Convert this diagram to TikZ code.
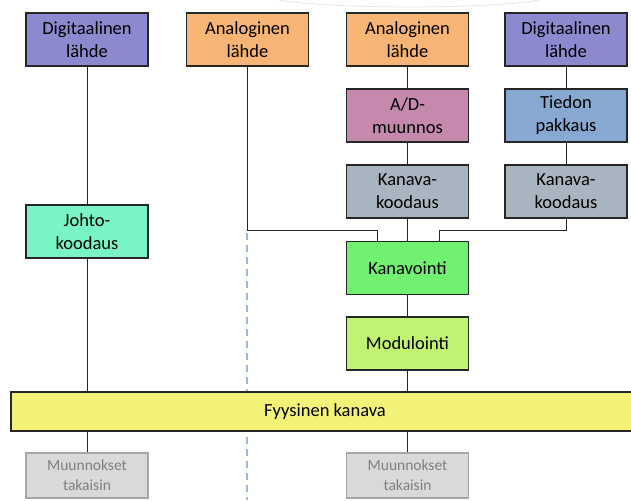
\documentclass[tikz,border=0pt]{standalone}
\usepackage{fontspec}
\setmainfont{Carlito}
\definecolor{cdig}{HTML}{8C89CF}
\definecolor{cana}{HTML}{F6B574}
\definecolor{cad}{HTML}{C589AE}
\definecolor{ctp}{HTML}{87A8D0}
\definecolor{ckk}{HTML}{A8B4BF}
\definecolor{cjk}{HTML}{78F4C6}
\definecolor{ckv}{HTML}{72F072}
\definecolor{cmod}{HTML}{C2F272}
\definecolor{cfk}{HTML}{F2F279}
\definecolor{cmun}{HTML}{D9D9D9}
\definecolor{cmunb}{HTML}{A6A6A6}
\definecolor{cmunt}{HTML}{808080}
\definecolor{cdash}{HTML}{9DB9DC}
\definecolor{cline}{HTML}{262626}
\tikzset{
  blk/.style={draw=cline, line width=1.2pt, rectangle, inner sep=0pt, align=center,
    minimum width=122pt, minimum height=53pt,
    font=\fontsize{18.5}{23}\selectfont},
  munbox/.style={draw=cmunb, fill=cmun, line width=1.2pt, rectangle, inner sep=0pt, align=center,
    minimum width=122pt, minimum height=45pt, text=cmunt,
    font=\fontsize{15.5}{20}\selectfont},
  conn/.style={draw=cline, line width=0.9pt},
}
\begin{document}
\begin{tikzpicture}[x=1pt,y=-1pt]
\useasboundingbox (0,0) rectangle (631,500);
\clip (0,0) rectangle (631,500);
% faint arc at top
\draw[cdash!70, line width=0.8pt, densely dotted] (280,0) .. controls (330,9.3) and (490,9.3) .. (540,0);
% dashed divider
\coordinate (dtop) at (247,233);
\coordinate (dbot) at (247,500);
\draw[cdash, line width=1.3pt, dash pattern=on 7pt off 5pt] (dtop) -- (dbot);
% nodes
\node[blk, fill=cdig] (d1) at (87,39.5) {Digitaalinen\\lähde};
\node[blk, fill=cana] (a1) at (247.5,39.5) {Analoginen\\lähde};
\node[blk, fill=cana] (a2) at (407.5,39.5) {Analoginen\\lähde};
\node[blk, fill=cdig] (d2) at (566,39.5) {Digitaalinen\\lähde};
\node[blk, fill=cad] (ad) at (407.5,115.5) {A/D-\\muunnos};
\node[blk, fill=ctp] (tp) at (566,115.5) {Tiedon\\pakkaus};
\node[blk, fill=ckk] (kk1) at (407.5,191.5) {Kanava-\\koodaus};
\node[blk, fill=ckk] (kk2) at (566,191.5) {Kanava-\\koodaus};
\node[blk, fill=cjk] (jk) at (87,231.5) {Johto-\\koodaus};
\node[blk, fill=ckv] (kv) at (407.5,268) {Kanavointi};
\node[blk, fill=cmod] (mod) at (407.5,343.5) {Modulointi};
\node[blk, fill=cfk, minimum width=628pt, minimum height=39pt] (fk) at (325,411.5) {Fyysinen kanava};
\node[munbox] (m1) at (87,475.5) {Muunnokset\\takaisin};
\node[munbox] (m2) at (407.5,475.5) {Muunnokset\\takaisin};
% connectors
\draw[conn] (d1) -- (jk);
\draw[conn] (jk) -- (jk |- fk.north);
\draw[conn] (m1 |- fk.south) -- (m1);
\draw[conn] (a2) -- (ad);
\draw[conn] (ad) -- (kk1);
\draw[conn] (kk1) -- (kv);
\draw[conn] (kv) -- (mod);
\draw[conn] (mod) -- (mod |- fk.north);
\draw[conn] (m2 |- fk.south) -- (m2);
\draw[conn] (d2) -- (tp);
\draw[conn] (tp) -- (kk2);
\coordinate (j1) at (377,230);
\coordinate (j2) at (439,230);
\draw[conn] (a1.south) |- (j1) -- (j1 |- kv.north);
\draw[conn] (kk2.south) |- (j2) -- (j2 |- kv.north);
\end{tikzpicture}
\end{document}
